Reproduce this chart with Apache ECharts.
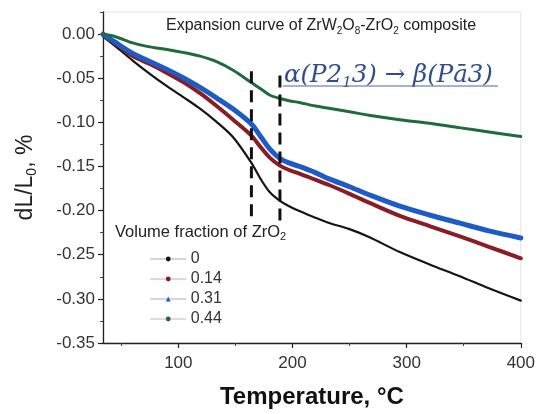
<!DOCTYPE html>
<html><head><meta charset="utf-8">
<script src="https://cdn.jsdelivr.net/npm/echarts@6/dist/echarts.min.js"></script>
<style>html,body{margin:0;padding:0;background:#fff}#c{width:538px;height:414px}</style>
</head><body><div id="c"></div>
<script>
// ---- data ----
const temps  = [34, 45, 60, 75, 90, 105, 119, 133, 148, 164, 172, 180, 189, 197, 206, 220, 232, 250, 267, 294, 320, 346, 372, 400];
const vol0   = [-0.003,-0.014,-0.030,-0.045,-0.059,-0.072,-0.0845,-0.099,-0.117,-0.146,-0.164,-0.179,-0.189,-0.195,-0.2005,-0.208,-0.214,-0.221,-0.230,-0.247,-0.261,-0.274,-0.288,-0.302];
const vol14  = [-0.001,-0.011,-0.025,-0.034,-0.044,-0.055,-0.067,-0.081,-0.097,-0.115,-0.128,-0.140,-0.149,-0.154,-0.158,-0.165,-0.171,-0.181,-0.191,-0.206,-0.2175,-0.229,-0.241,-0.254];
const vol31  = [0.000,-0.0095,-0.022,-0.031,-0.040,-0.050,-0.0605,-0.072,-0.085,-0.102,-0.116,-0.130,-0.141,-0.146,-0.150,-0.157,-0.164,-0.173,-0.182,-0.195,-0.205,-0.214,-0.223,-0.231];
const vol44  = [0.000,-0.003,-0.010,-0.0145,-0.0175,-0.021,-0.025,-0.031,-0.041,-0.055,-0.062,-0.069,-0.073,-0.0755,-0.0775,-0.0815,-0.084,-0.088,-0.092,-0.097,-0.101,-0.106,-0.111,-0.116];
const seriesNames = ['0', '0.14', '0.31', '0.44'];
const xMajorTicks = [100, 200, 300, 400];
const xMinorTicks = [50, 150, 250, 350];
const yMajorTicks = [-0.35, -0.30, -0.25, -0.20, -0.15, -0.10, -0.05, 0.00];
const yMinorTicks = [-0.325, -0.275, -0.225, -0.175, -0.125, -0.075, -0.025, 0.025];
const transitionTemps  = [164, 189];
const transitionTop    = [-0.042, -0.047];
const transitionBottom = [-0.213, -0.213];
const xRange = [34, 400];
const yRange = [-0.35, 0.025];

const colors = ['#151515', '#8c1c24', '#1d5bc8', '#1f6b3a'];
const widths = [2.2, 4, 5, 3];
const symbols = ['circle', 'circle', 'triangle', 'circle'];
const legendLine = ['#c9c9c9', '#e6c6c6', '#c3c9d6', '#e3cccc'];
const values = [vol0, vol14, vol31, vol44];

const font = '"Liberation Sans", Arial, sans-serif';
const chart = echarts.init(document.getElementById('c'), null, {renderer: 'canvas'});

const zip = arr => temps.map((t, i) => [t, arr[i]]);
const drawOrder = [3, 1, 2, 0];
const series = drawOrder.map(k => ({
  name: seriesNames[k], type: 'line', data: zip(values[k]),
  xAxisIndex: 0, yAxisIndex: 0,
  showSymbol: false, symbol: symbols[k], smooth: 0.3,
  lineStyle: {color: colors[k], width: widths[k], join: 'round', cap: 'round'},
  itemStyle: {color: colors[k]},
  z: 3 + k
}));
transitionTemps.forEach((t, i) => series.push({
  name: 'transition' + i, type: 'line', xAxisIndex: 0, yAxisIndex: 0,
  data: [[t, transitionTop[i]], [t, transitionBottom[i]]],
  showSymbol: false, symbol: 'none', silent: true, z: 10,
  lineStyle: {color: '#111', width: 3, type: [12, 7]}
}));

const axisCommonX = {type: 'value', min: xRange[0], max: xRange[1], gridIndex: 0, position: 'bottom', splitLine: {show: false}};
const axisCommonY = {type: 'value', min: yRange[0], max: yRange[1], gridIndex: 0, position: 'left', splitLine: {show: false}};

chart.setOption({
  animation: false,
  backgroundColor: '#fff',
  grid: {left: 103, right: 16, top: 12, bottom: 66, show: true, borderColor: '#e4e4e4', borderWidth: 1},
  xAxis: [
    Object.assign({}, axisCommonX, {
      axisLine: {onZero: false, lineStyle: {color: '#222', width: 1.3}},
      axisTick: {customValues: xMajorTicks, length: 5, lineStyle: {color: '#222', width: 1.2}},
      axisLabel: {customValues: xMajorTicks, fontSize: 17, color: '#333', fontFamily: font, margin: 12},
      name: 'Temperature, °C', nameLocation: 'middle', nameGap: 42,
      nameTextStyle: {fontSize: 24, fontWeight: 'bold', color: '#111', fontFamily: font}
    }),
    Object.assign({}, axisCommonX, {
      axisLine: {show: false, onZero: false},
      axisTick: {customValues: xMinorTicks, length: 3, lineStyle: {color: '#444', width: 1}},
      axisLabel: {show: false}
    })
  ],
  yAxis: [
    Object.assign({}, axisCommonY, {
      axisLine: {onZero: false, lineStyle: {color: '#222', width: 1.3}},
      axisTick: {customValues: yMajorTicks, length: 5, lineStyle: {color: '#222', width: 1.2}},
      axisLabel: {customValues: yMajorTicks, fontSize: 17, color: '#333', fontFamily: font, margin: 8,
                  formatter: v => v.toFixed(2)},
      name: '{a|dL/L}{s|0}{a|, %}', nameLocation: 'middle', nameGap: 64, nameRotate: 90,
      nameTextStyle: {fontFamily: font, color: '#222',
        rich: {a: {fontSize: 23, fontFamily: font, color: '#222', verticalAlign: 'top', lineHeight: 25},
               s: {fontSize: 14, fontFamily: font, color: '#222', verticalAlign: 'bottom', lineHeight: 14, padding: [11, 0, 0, 0]}}}
    }),
    Object.assign({}, axisCommonY, {
      axisLine: {show: false, onZero: false},
      axisTick: {customValues: yMinorTicks, length: 3, lineStyle: {color: '#444', width: 1}},
      axisLabel: {show: false}
    })
  ],
  legend: {
    orient: 'vertical', left: 145, top: 246, itemWidth: 35, itemHeight: 6, itemGap: 4,
    textStyle: {fontSize: 16, color: '#333', fontFamily: font},
    data: seriesNames.map((n, k) => ({name: n, lineStyle: {color: legendLine[k], width: 1.5}, itemStyle: {color: colors[k]}}))
  },
  graphic: [
    {type: 'text', left: 166, top: 16, z: 20, style: {
      text: '{b|Expansion curve of ZrW}{s|2}{b|O}{s|8}{b|-ZrO}{s|2}{b| composite}',
      rich: {b: {fontSize: 16, fontFamily: font, fill: '#222', verticalAlign: 'top', lineHeight: 18},
             s: {fontSize: 10, fontFamily: font, fill: '#222', verticalAlign: 'bottom', lineHeight: 10, padding: [10, 0, 0, 0]}}}},
    {type: 'text', left: 115, top: 221, z: 20, style: {
      text: '{b|Volume fraction of ZrO}{s|2}',
      rich: {b: {fontSize: 16.5, fontFamily: font, fill: '#222', verticalAlign: 'top', lineHeight: 18},
             s: {fontSize: 11, fontFamily: font, fill: '#222', verticalAlign: 'bottom', lineHeight: 11, padding: [10, 0, 0, 0]}}}},
    {type: 'text', left: 284, top: 62, z: 20, style: {
      text: '{b|α(P2}{s|1}{b|3) → β(Pā3)}',
      rich: {b: {fontSize: 24.5, fontFamily: '"DejaVu Serif", serif', fontStyle: 'italic', fill: '#2e4c8e', verticalAlign: 'top', lineHeight: 28},
             s: {fontSize: 15, fontFamily: '"DejaVu Serif", serif', fontStyle: 'italic', fill: '#2e4c8e', verticalAlign: 'bottom', lineHeight: 15, padding: [14, 0, 0, 0]}}}},
    {type: 'line', z: 20, shape: {x1: 283, y1: 86, x2: 498, y2: 86}, style: {stroke: '#4a64a0', lineWidth: 1}}
  ],
  series: series
});
</script></body></html>
